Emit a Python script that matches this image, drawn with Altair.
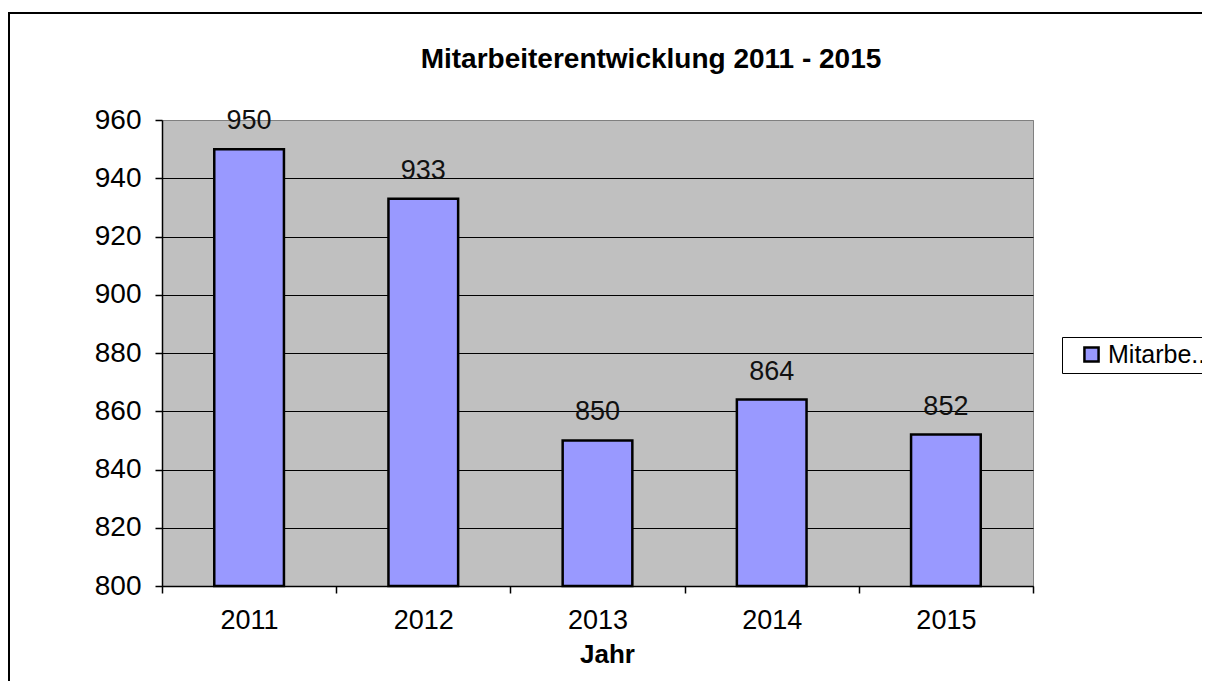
import altair as alt
import pandas as pd

years = ["2011", "2012", "2013", "2014", "2015"]
employees = [950, 933, 850, 864, 852]
series_name = "Mitarbeiter"
y_ticks = [800, 820, 840, 860, 880, 900, 920, 940, 960]
y_min, y_max = 800, 960
chart_title = "Mitarbeiterentwicklung 2011 - 2015"

df = pd.DataFrame({"Jahr": years, "Wert": employees, "Serie": [series_name] * len(years)})

FONT = "Liberation Sans"

base = alt.Chart(df)

x_enc = alt.X(
    "Jahr:N",
    title="Jahr",
    scale=alt.Scale(paddingInner=0, paddingOuter=0),
    axis=alt.Axis(
        labelAngle=0,
        tickBand="extent",
        labelFontSize=27,
        labelPadding=14,
        tickSize=7,
        titleFontSize=26,
        titleFontWeight="bold",
        titlePadding=8,
        titleX=445,
        titleAlign="center",
    ),
)

y_enc = alt.Y(
    "Wert:Q",
    title=None,
    scale=alt.Scale(domain=[y_min, y_max], zero=False, nice=False),
    axis=alt.Axis(
        values=y_ticks,
        labelFontSize=28,
        labelPadding=14,
        tickSize=7,
        grid=True,
        gridColor={"condition": {"test": "datum.value === 960", "value": "#808080"}, "value": "black"},
        gridWidth=1,
    ),
)

bars = base.mark_bar(stroke="black", strokeWidth=2.5, width=alt.RelativeBandSize(0.4)).encode(
    x=x_enc,
    y=y_enc,
    y2=alt.datum(y_min),
    color=alt.Color(
        "Serie:N",
        scale=alt.Scale(range=["#9999FF"]),
        legend=alt.Legend(
            title=None,
            orient="none",
            legendX=900,
            legendY=217,
            strokeColor="black",
            fillColor="white",
            padding=5,
            symbolOffset=12,
            symbolType="square",
            symbolSize=200,
            symbolStrokeColor="black",
            symbolStrokeWidth=2.5,
            symbolFillColor="#9999FF",
            labelFontSize=25,
            labelOffset=4,
            labelExpr="slice(datum.label, 0, 7) + '..'",
            labelLimit=200,
        ),
    ),
)

labels = base.mark_text(fontSize=27, dy=-20, baseline="alphabetic", color="#111").encode(
    x="Jahr:N",
    y="Wert:Q",
    text="Wert:Q",
)

title_mark = alt.Chart(pd.DataFrame({"t": [chart_title]})).mark_text(
    fontSize=28, fontWeight="bold", baseline="alphabetic", align="center", color="black"
).encode(
    text="t:N", x=alt.value(489), y=alt.value(-52)
)

frame = alt.Chart(pd.DataFrame({"f": [0]})).mark_rect(
    fill=None, stroke="black", strokeWidth=2
).encode(
    x=alt.value(-153), x2=alt.value(3000), y=alt.value(-107), y2=alt.value(2000)
)

chart = (
    alt.layer(frame, bars, labels, title_mark)
    .properties(
        width=871,
        height=466,
        autosize=alt.AutoSizeParams(type="none"),
        padding={"left": 154, "top": 112, "right": 169, "bottom": 95},
        background="white",
    )
    .configure(font=FONT)
    .configure_view(fill="#C0C0C0", stroke="#808080", strokeWidth=1)
    .configure_axis(
        labelColor="black",
        titleColor="black",
        domainColor="black",
        domainWidth=1.5,
        tickColor="black",
        tickWidth=1.5,
        labelFont=FONT,
        titleFont=FONT,
    )
    .configure_legend(labelColor="black", labelFont=FONT)
)

chart.save("out.html", embed_options={"renderer": "svg", "actions": False})
